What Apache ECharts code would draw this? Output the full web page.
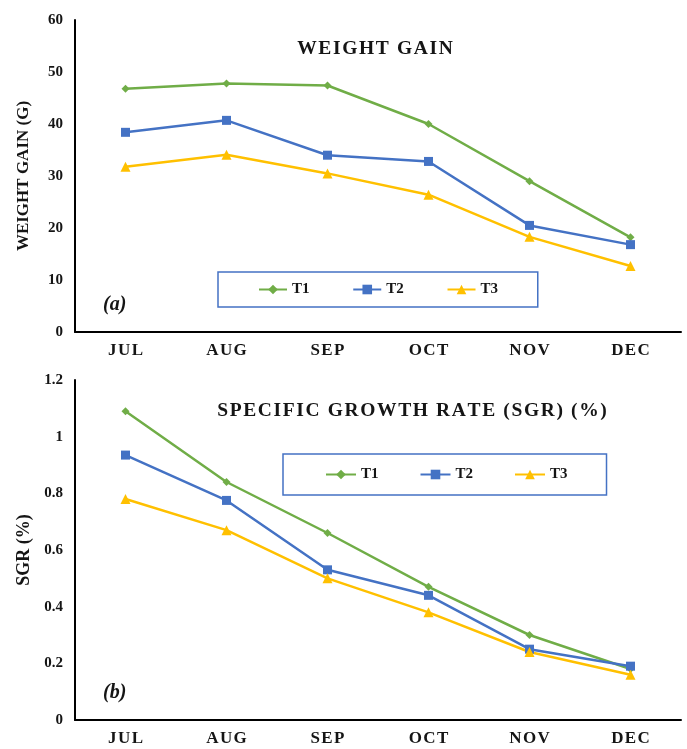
<!DOCTYPE html>
<html><head><meta charset="utf-8">
<script src="https://cdn.jsdelivr.net/npm/echarts@6/dist/echarts.min.js"></script>
<style>html,body{margin:0;padding:0;background:#fff;}#c{width:687px;height:749px;}</style>
</head><body><div id="c"></div>
<script>
const months = ['JUL','AUG','SEP','OCT','NOV','DEC'];
const seriesNames = ['T1','T2','T3'];
const wgT1 = [46.8, 47.8, 47.4, 40.0, 29.0, 18.2];
const wgT2 = [38.4, 40.7, 34.0, 32.8, 20.5, 16.8];
const wgT3 = [31.8, 34.1, 30.5, 26.4, 18.3, 12.7];
const sgrT1 = [1.09, 0.84, 0.66, 0.47, 0.30, 0.18];
const sgrT2 = [0.935, 0.775, 0.53, 0.44, 0.25, 0.19];
const sgrT3 = [0.78, 0.67, 0.50, 0.38, 0.24, 0.16];

const colors = ['#70AD47','#4472C4','#FFC000'];
const symbols = ['diamond','rect','triangle'];
const symSizes = [8, 9, 10];
const FF = '"Liberation Serif", "DejaVu Serif", serif';
const spaced = s => s.split('').join('\u200A');

function mk(name, data, i, axisIdx){
  return {name, type:'line', data, xAxisIndex:axisIdx, yAxisIndex:axisIdx,
    symbol:symbols[i], symbolSize:symSizes[i], showAllSymbol:true,
    lineStyle:{color:colors[i], width:2.5}, itemStyle:{color:colors[i]}};
}
function xAx(gi){ return {type:'category', gridIndex:gi, data:months, boundaryGap:true,
  axisLine:{lineStyle:{color:'#000', width:2}}, axisTick:{show:false},
  axisLabel:{margin:10, fontFamily:FF, fontWeight:'bold', fontSize:17, color:'#151515', formatter:v=>spaced(v)}}; }
function yAx(gi, max, interval, name, nameSize, nameGap, fmt){ return {type:'value', gridIndex:gi, min:0, max, interval,
  name, nameLocation:'middle', nameGap, nameTextStyle:{fontFamily:FF, fontWeight:'bold', fontSize:nameSize, color:'#151515'},
  axisLine:{show:true, lineStyle:{color:'#000', width:2}}, axisTick:{show:false}, splitLine:{show:false},
  axisLabel:{margin:12, formatter:fmt, fontFamily:FF, fontWeight:'bold', fontSize:15, color:'#151515'}}; }

const legendCommon = {orient:'horizontal', borderColor:'#4472C4', borderWidth:1.5,
  itemHeight:12, textStyle:{fontFamily:FF, fontWeight:'bold', fontSize:15, color:'#151515'}};

const chart = echarts.init(document.getElementById('c'), null, {renderer:'canvas'});
chart.setOption({
  animation:false,
  backgroundColor:'#fff',
  title:[
    {text:spaced('WEIGHT GAIN'), left:370, top:34, textAlign:'center', textStyle:{fontFamily:FF, fontWeight:'bold', fontSize:19.5, color:'#151515'}},
    {text:spaced('SPECIFIC GROWTH RATE (SGR) (%)'), left:407, top:396, textAlign:'center', textStyle:{fontFamily:FF, fontWeight:'bold', fontSize:19.5, color:'#151515'}},
    {text:'(a)', left:98, top:290, textStyle:{fontFamily:FF, fontWeight:'bold', fontStyle:'italic', fontSize:20, color:'#151515'}},
    {text:'(b)', left:98, top:678, textStyle:{fontFamily:FF, fontWeight:'bold', fontStyle:'italic', fontSize:20, color:'#151515'}}
  ],
  legend:[
    Object.assign({}, legendCommon, {data:seriesNames.map(n=>n+' '), left:218, top:272, itemWidth:28, padding:[10,36,10,40], itemGap:39}),
    Object.assign({}, legendCommon, {data:seriesNames, left:283, top:454, itemWidth:30, padding:[13,39,13,42], itemGap:41}),
  ],
  grid:[
    {left:75, top:20, width:606, height:312},
    {left:75, top:380, width:606, height:340}
  ],
  xAxis:[xAx(0), xAx(1)],
  yAxis:[yAx(0, 60, 10, 'WEIGHT GAIN (G)', 17, 43), yAx(1, 1.2, 0.2, 'SGR (%)', 18, 42, v=>String(+v.toFixed(1)))],
  series:[
    mk('T1 ', wgT1, 0, 0), mk('T2 ', wgT2, 1, 0), mk('T3 ', wgT3, 2, 0),
    mk('T1', sgrT1, 0, 1), mk('T2', sgrT2, 1, 1), mk('T3', sgrT3, 2, 1)
  ]
});
</script></body></html>
